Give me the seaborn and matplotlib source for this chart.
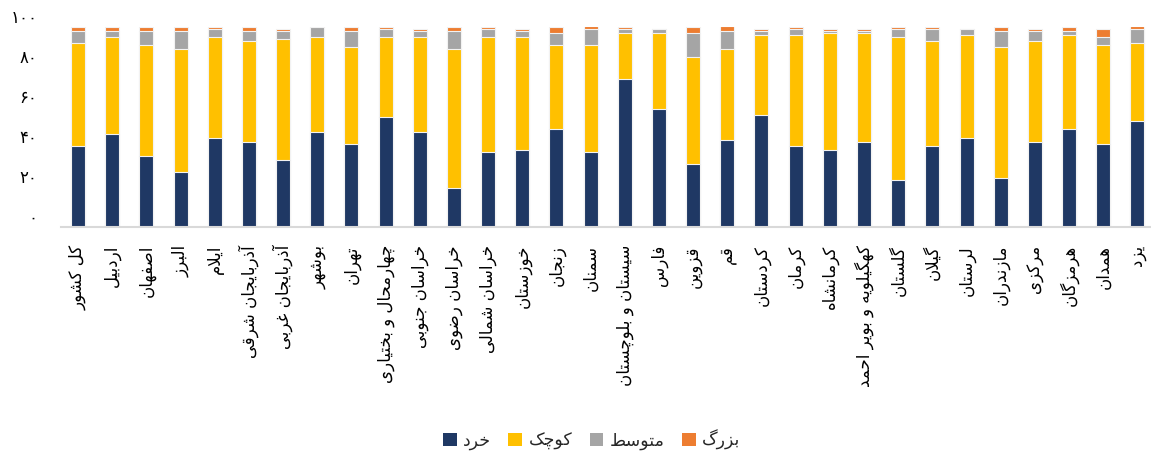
import numpy as np
import pandas as pd
import matplotlib
matplotlib.use("Agg")
import matplotlib.pyplot as plt
from matplotlib.patches import Patch
import seaborn as sns

provinces = [
    "کل کشور", "اردبیل", "اصفهان", "البرز", "ایلام", "آذربایجان شرقی",
    "آذربایجان غربی", "بوشهر", "تهران", "چهارمحال و بختیاری", "خراسان جنوبی",
    "خراسان رضوی", "خراسان شمالی", "خوزستان", "زنجان", "سمنان",
    "سیستان و بلوچستان", "فارس", "قزوین", "قم", "کردستان", "کرمان",
    "کرمانشاه", "کهگیلویه و بویر احمد", "گلستان", "گیلان", "لرستان",
    "مازندران", "مرکزی", "هرمزگان", "همدان", "یزد",
]
micro = [40.6, 46.6, 35.6, 27.6, 44.6, 42.6, 33.4, 47.6, 41.6, 54.7, 47.6,
         19.5, 37.6, 38.4, 48.8, 37.6, 73.9, 58.9, 31.4, 43.6, 55.7, 40.6,
         38.4, 42.6, 23.5, 40.6, 44.6, 24.5, 42.6, 48.8, 41.6, 52.7]
small = [51.4, 48.4, 55.4, 61.4, 50.4, 50.4, 60.6, 47.4, 48.4, 40.3, 47.4,
         69.5, 57.4, 56.6, 42.2, 53.4, 23.1, 38.1, 53.5, 45.4, 40.3, 55.4,
         58.6, 54.4, 71.5, 52.4, 51.4, 65.5, 50.4, 47.2, 49.4, 39.3]
medium = [6.0, 3.0, 7.0, 9.0, 4.0, 5.0, 4.0, 5.0, 8.0, 4.0, 3.0,
          9.0, 4.0, 3.0, 6.0, 8.0, 2.0, 2.0, 12.1, 9.0, 2.0, 3.0,
          1.0, 1.0, 4.0, 6.0, 3.0, 8.0, 5.0, 2.0, 4.0, 7.0]
large = [2.0, 2.0, 2.0, 2.0, 1.0, 2.0, 1.0, 0.0, 2.0, 1.0, 1.0,
         2.0, 1.0, 1.0, 3.0, 1.3, 1.0, 0.0, 3.0, 2.3, 1.0, 1.0,
         1.0, 1.0, 1.0, 1.0, 0.0, 2.0, 1.0, 2.0, 4.0, 1.3]
series_names = ["خرد", "کوچک", "متوسط", "بزرگ"]
series_colors = ["#1F3864", "#FFC000", "#A5A5A5", "#ED7D31"]
yticks = [0, 20, 40, 60, 80, 100]

# --- simple Persian shaping (presentation forms) + visual reordering -------
FORMS = {
    "\u0627": ("\uFE8D", "\uFE8E", None, None),
    "\u0622": ("\uFE81", "\uFE82", None, None),
    "\u0628": ("\uFE8F", "\uFE90", "\uFE91", "\uFE92"),
    "\u067E": ("\uFB56", "\uFB57", "\uFB58", "\uFB59"),
    "\u062A": ("\uFE95", "\uFE96", "\uFE97", "\uFE98"),
    "\u062B": ("\uFE99", "\uFE9A", "\uFE9B", "\uFE9C"),
    "\u062C": ("\uFE9D", "\uFE9E", "\uFE9F", "\uFEA0"),
    "\u0686": ("\uFB7A", "\uFB7B", "\uFB7C", "\uFB7D"),
    "\u062D": ("\uFEA1", "\uFEA2", "\uFEA3", "\uFEA4"),
    "\u062E": ("\uFEA5", "\uFEA6", "\uFEA7", "\uFEA8"),
    "\u062F": ("\uFEA9", "\uFEAA", None, None),
    "\u0630": ("\uFEAB", "\uFEAC", None, None),
    "\u0631": ("\uFEAD", "\uFEAE", None, None),
    "\u0632": ("\uFEAF", "\uFEB0", None, None),
    "\u0698": ("\uFB8A", "\uFB8B", None, None),
    "\u0633": ("\uFEB1", "\uFEB2", "\uFEB3", "\uFEB4"),
    "\u0634": ("\uFEB5", "\uFEB6", "\uFEB7", "\uFEB8"),
    "\u0635": ("\uFEB9", "\uFEBA", "\uFEBB", "\uFEBC"),
    "\u0636": ("\uFEBD", "\uFEBE", "\uFEBF", "\uFEC0"),
    "\u0637": ("\uFEC1", "\uFEC2", "\uFEC3", "\uFEC4"),
    "\u0638": ("\uFEC5", "\uFEC6", "\uFEC7", "\uFEC8"),
    "\u0639": ("\uFEC9", "\uFECA", "\uFECB", "\uFECC"),
    "\u063A": ("\uFECD", "\uFECE", "\uFECF", "\uFED0"),
    "\u0641": ("\uFED1", "\uFED2", "\uFED3", "\uFED4"),
    "\u0642": ("\uFED5", "\uFED6", "\uFED7", "\uFED8"),
    "\u06A9": ("\uFB8E", "\uFB8F", "\uFB90", "\uFB91"),
    "\u06AF": ("\uFB92", "\uFB93", "\uFB94", "\uFB95"),
    "\u0644": ("\uFEDD", "\uFEDE", "\uFEDF", "\uFEE0"),
    "\u0645": ("\uFEE1", "\uFEE2", "\uFEE3", "\uFEE4"),
    "\u0646": ("\uFEE5", "\uFEE6", "\uFEE7", "\uFEE8"),
    "\u0647": ("\uFEE9", "\uFEEA", "\uFEEB", "\uFEEC"),
    "\u0648": ("\uFEED", "\uFEEE", None, None),
    "\u06CC": ("\uFBFC", "\uFBFD", "\uFBFE", "\uFBFF"),
}
LAM_ALEF = {"\u0627": ("\uFEFB", "\uFEFC"), "\u0622": ("\uFEF5", "\uFEF6")}


def fa(text):
    out = []
    joins_prev = False
    i = 0
    while i < len(text):
        ch = text[i]
        nxt = text[i + 1] if i + 1 < len(text) else ""
        if ch not in FORMS:
            out.append(ch)
            joins_prev = False
            i += 1
            continue
        if ch == "\u0644" and nxt in LAM_ALEF:
            out.append(LAM_ALEF[nxt][1 if joins_prev else 0])
            joins_prev = False
            i += 2
            continue
        iso, fin, ini, med = FORMS[ch]
        dual = ini is not None
        joins_next = dual and nxt in FORMS
        if joins_prev and joins_next:
            out.append(med)
        elif joins_prev:
            out.append(fin)
        elif joins_next:
            out.append(ini)
        else:
            out.append(iso)
        joins_prev = dual
        i += 1
    return "".join(reversed(out))


def fa_digits(n):
    return "".join(chr(0x06F0 + int(d)) for d in str(n))


# --- data frame and cumulative layers --------------------------------------
df = pd.DataFrame({"province": provinces, "micro": micro, "small": small,
                   "medium": medium, "large": large})
df["c1"] = df["micro"]
df["c2"] = df["c1"] + df["small"]
df["c3"] = df["c2"] + df["medium"]
df["c4"] = df["c3"] + df["large"]

sns.set_theme(style="white")
plt.rcParams["font.family"] = ["DejaVu Sans"]

fig = plt.figure(figsize=(11.51, 4.59), dpi=100)
ax = fig.add_axes([0.053, 0.5054, 0.95, 0.4364])

for col, color in zip(["c4", "c3", "c2", "c1"], series_colors[::-1]):
    sns.barplot(data=df, x="province", y=col, order=provinces, color=color,
                width=0.41, edgecolor="#F2F2F2", linewidth=0.8, ax=ax,
                saturation=1)

ax.set_xlim(-0.5, 31.5)
ax.set_ylim(0, 100)
ax.set_xlabel("")
ax.set_ylabel("")
ax.set_xticks(range(len(provinces)))
ax.set_xticklabels([fa(p) for p in provinces], rotation=90, fontsize=12,
                   color="#000000")
ax.set_yticks(yticks)
ax.set_yticklabels([fa_digits(t) for t in yticks], fontsize=12,
                   color="#000000")
for lbl in ax.get_yticklabels():
    lbl.set_verticalalignment("bottom")
ax.tick_params(axis="x", length=0, pad=13)
ax.tick_params(axis="y", length=0, pad=17)

for side in ["top", "right", "left"]:
    ax.spines[side].set_visible(False)
ax.spines["bottom"].set_color("#D9D9D9")
ax.spines["bottom"].set_linewidth(1.5)
ax.grid(False)

handles = [Patch(facecolor=c, edgecolor="none") for c in series_colors]
fig.legend(handles, [fa(s) for s in series_names], loc="center",
           bbox_to_anchor=(0.514, 0.042), ncol=4, frameon=False, fontsize=12.5,
           handlelength=0.8, handleheight=0.8, handletextpad=0.35,
           columnspacing=1.0)

fig.savefig("out.png", dpi=100)
